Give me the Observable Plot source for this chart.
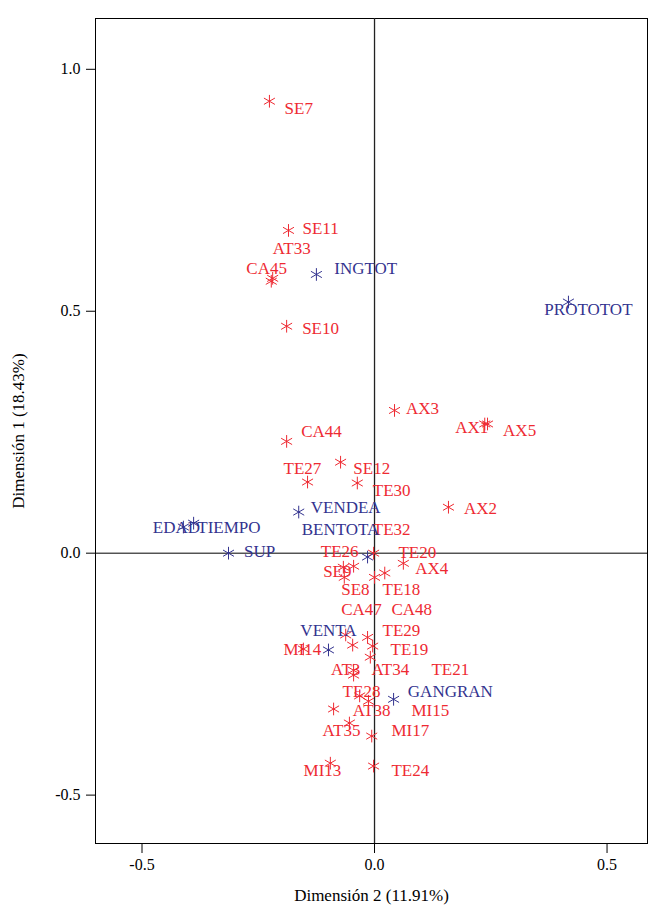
<!DOCTYPE html>
<html><head><meta charset="utf-8">
<script src="https://cdn.jsdelivr.net/npm/d3@7"></script>
<script src="https://cdn.jsdelivr.net/npm/@observablehq/plot@0.6"></script>
<style>body{margin:0;background:#fff} svg{display:block}</style>
</head><body><div id="chart"></div>
<script>
// Red category markers (Dimensión 2, Dimensión 1)
const redX = [-0.226,-0.185,-0.219,-0.222,-0.189,0.043,0.237,0.243,-0.189,-0.073,-0.144,-0.037,0.159,-0.002,0.062,-0.067,-0.045,-0.065,0.000,0.022,-0.062,-0.015,-0.047,-0.004,-0.153,-0.009,-0.045,-0.045,-0.032,-0.013,-0.088,-0.054,-0.006,-0.095,-0.002];
const redY = [0.934,0.667,0.568,0.562,0.469,0.295,0.267,0.267,0.231,0.188,0.147,0.145,0.095,0.000,-0.021,-0.029,-0.027,-0.050,-0.050,-0.041,-0.169,-0.174,-0.190,-0.192,-0.198,-0.215,-0.242,-0.252,-0.295,-0.306,-0.322,-0.351,-0.378,-0.434,-0.440];
// Blue variable markers
const blueX = [-0.125,0.417,-0.163,-0.411,-0.389,-0.314,-0.015,-0.099,0.041];
const blueY = [0.576,0.519,0.085,0.054,0.062,0.000,-0.008,-0.200,-0.302];
// Labels
const labelNames = ["SE7","SE11","AT33","CA45","SE10","CA44","TE27","SE12","TE30","AX3","AX1","AX5","AX2","TE32","TE20","TE26","AX4","SE9","SE8","TE18","CA47","CA48","TE29","MI14","TE19","AT3","AT34","TE21","TE28","AT38","MI15","AT35","MI17","MI13","TE24",
  "INGTOT","PROTOTOT","VENDEA","EDAD","TIEMPO","SUP","BENTOTA","VENTA","GANGRAN"];
const labelX = [-0.163,-0.116,-0.178,-0.232,-0.116,-0.114,-0.155,-0.006,0.037,0.103,0.209,0.312,0.228,0.037,0.092,-0.075,0.123,-0.080,-0.041,0.058,-0.028,0.080,0.058,-0.155,0.075,-0.062,0.034,0.163,-0.028,-0.006,0.120,-0.071,0.077,-0.112,0.077,
  -0.019,0.460,-0.062,-0.426,-0.313,-0.247,-0.073,-0.099,0.163];
const labelY = [0.919,0.671,0.630,0.589,0.465,0.252,0.174,0.174,0.130,0.298,0.260,0.254,0.093,0.048,0.002,0.004,-0.031,-0.037,-0.076,-0.076,-0.116,-0.116,-0.159,-0.200,-0.200,-0.240,-0.240,-0.240,-0.285,-0.326,-0.326,-0.366,-0.366,-0.450,-0.450,
  0.589,0.504,0.095,0.052,0.052,0.004,0.048,-0.159,-0.285];
const labelGroup = labelNames.map((d,i) => i < 35 ? "cat" : "var");
const xTicks = [-0.5, 0, 0.5];
const yTicks = [-0.5, 0, 0.5, 1.0];

const RED = "#ee2a32", BLUE = "#33338f";
const red = redX.map((x,i) => ({x, y: redY[i]}));
const blue = blueX.map((x,i) => ({x, y: blueY[i]}));
const labels = labelNames.map((n,i) => ({n, x: labelX[i], y: labelY[i], g: labelGroup[i]}));
const fmt = d => d.toFixed(1);
const font = "Liberation Serif";

const chart = Plot.plot({
  width: 648, height: 911,
  marginLeft: 95, marginRight: 1, marginTop: 18, marginBottom: 68,
  style: {fontFamily: font, background: "#fff", color: "#000"},
  x: {domain: [-0.6, 0.587]},
  y: {domain: [-0.6, 1.105]},
  marks: [
    Plot.frame({stroke: "#000", strokeWidth: 1}),
    Plot.ruleX([0], {stroke: "#222", strokeWidth: 1.3}),
    Plot.ruleY([0], {stroke: "#000", strokeWidth: 1}),
    Plot.axisX({ticks: xTicks, tickFormat: fmt, tickSize: 10, tickPadding: 5, fontSize: 16,
      label: null}),
    Plot.axisX({ticks: [], label: "Dimensión 2 (11.91%)", labelAnchor: "center", labelOffset: 57, labelArrow: "none", fontSize: 17}),
    Plot.axisY({ticks: yTicks, tickFormat: fmt, tickSize: 9, tickPadding: 6, fontSize: 16,
      label: null}),
    Plot.axisY({ticks: [], label: "Dimensión 1 (18.43%)", labelAnchor: "center", labelOffset: 84, labelArrow: "none", fontSize: 17}),
    Plot.dot(red, {x: "x", y: "y", symbol: "asterisk", r: 6, stroke: RED, strokeWidth: 1}),
    Plot.dot(blue, {x: "x", y: "y", symbol: "asterisk", r: 6, stroke: BLUE, strokeWidth: 1}),
    Plot.text(labels, {x: "x", y: "y", text: "n", fill: d => d.g === "cat" ? RED : BLUE, fontSize: 17, fontFamily: font})
  ]
});
document.getElementById("chart").appendChild(chart);
</script></body></html>
